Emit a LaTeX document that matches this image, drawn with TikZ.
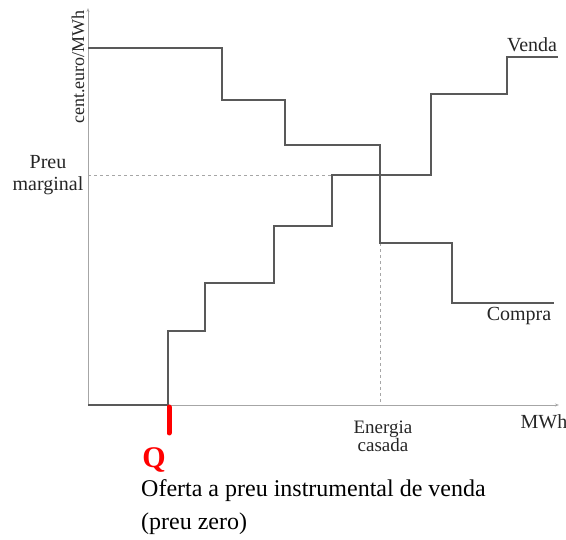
\documentclass[tikz,border=0pt]{standalone}
\usepackage{fontspec}
\setmainfont{Liberation Serif}
\usetikzlibrary{arrows.meta}
\tikzset{
  axisline/.style={draw=black!35, line width=0.9pt},
  stepline/.style={draw=black!65, line width=1.2pt},
  guide/.style={draw=black!35, line width=0.8pt, dashed},
  lbl/.style={font=\fontsize{20}{20}\selectfont, text=black!85, inner sep=0pt, align=center},
}
\begin{document}
\begin{tikzpicture}[x=1pt,y=-1pt]
\useasboundingbox (0,0) rectangle (566,540);
\path (88,405) coordinate (o)
      (88,8) coordinate (ytop)
      (559,405) coordinate (xend)
      (88,175) coordinate (pm)
      (380,175) coordinate (cross)
      (380,405) coordinate (ec)
      (169,407) coordinate (qtop)
      (169,433) coordinate (qbot)
      ;
% axes
\draw [axisline, -{Stealth[open,length=4pt,width=3pt]}] (o) -- (ytop);
\draw [axisline, -{Stealth[open,length=4pt,width=3pt]}] (o) -- (xend);
% guides
\draw [guide] (pm) -- (cross);
\draw [guide] (380,243) -- (ec);
% compra
\draw [stepline] (88,48) -- (222,48) -- (222,100) -- (285,100) -- (285,145)
      -- (380,145) -- (380,243) -- (452,243) -- (452,303) -- (554,303);
% venda
\draw [stepline] (o) -- (168,405) -- (168,331) -- (205,331) -- (205,283)
      -- (274,283) -- (274,226) -- (332,226) -- (332,175) -- (431,175)
      -- (431,94) -- (507,94) -- (507,57) -- (558,57);
% red mark
\draw [red, line width=5pt, line cap=round] (qtop) -- (qbot);
% labels
\path (78,67) node [lbl, rotate=90, font=\fontsize{18}{18}\selectfont] (yl) {cent.euro/MWh}
      (48,175) node [lbl] (pml) {Preu\\[2pt]marginal}
      (532,45) node [lbl] (vl) {Venda}
      (519,316) node [lbl] (cl) {Compra}
      (544,422) node [lbl] (xl) {MWh}
      (383,436) node [lbl, font=\fontsize{19}{18}\selectfont] (ecl) {Energia\\casada}
      (154,460) node [lbl, text=red, font=\fontsize{30}{30}\selectfont\bfseries] (q) {Q}
      (141,491) node [lbl, anchor=west, text=black, font=\fontsize{24}{24}\selectfont] (of) {Oferta a preu instrumental de venda}
      (141,524) node [lbl, anchor=west, text=black, font=\fontsize{24}{24}\selectfont] (pz) {(preu zero)}
      ;
\end{tikzpicture}
\end{document}
